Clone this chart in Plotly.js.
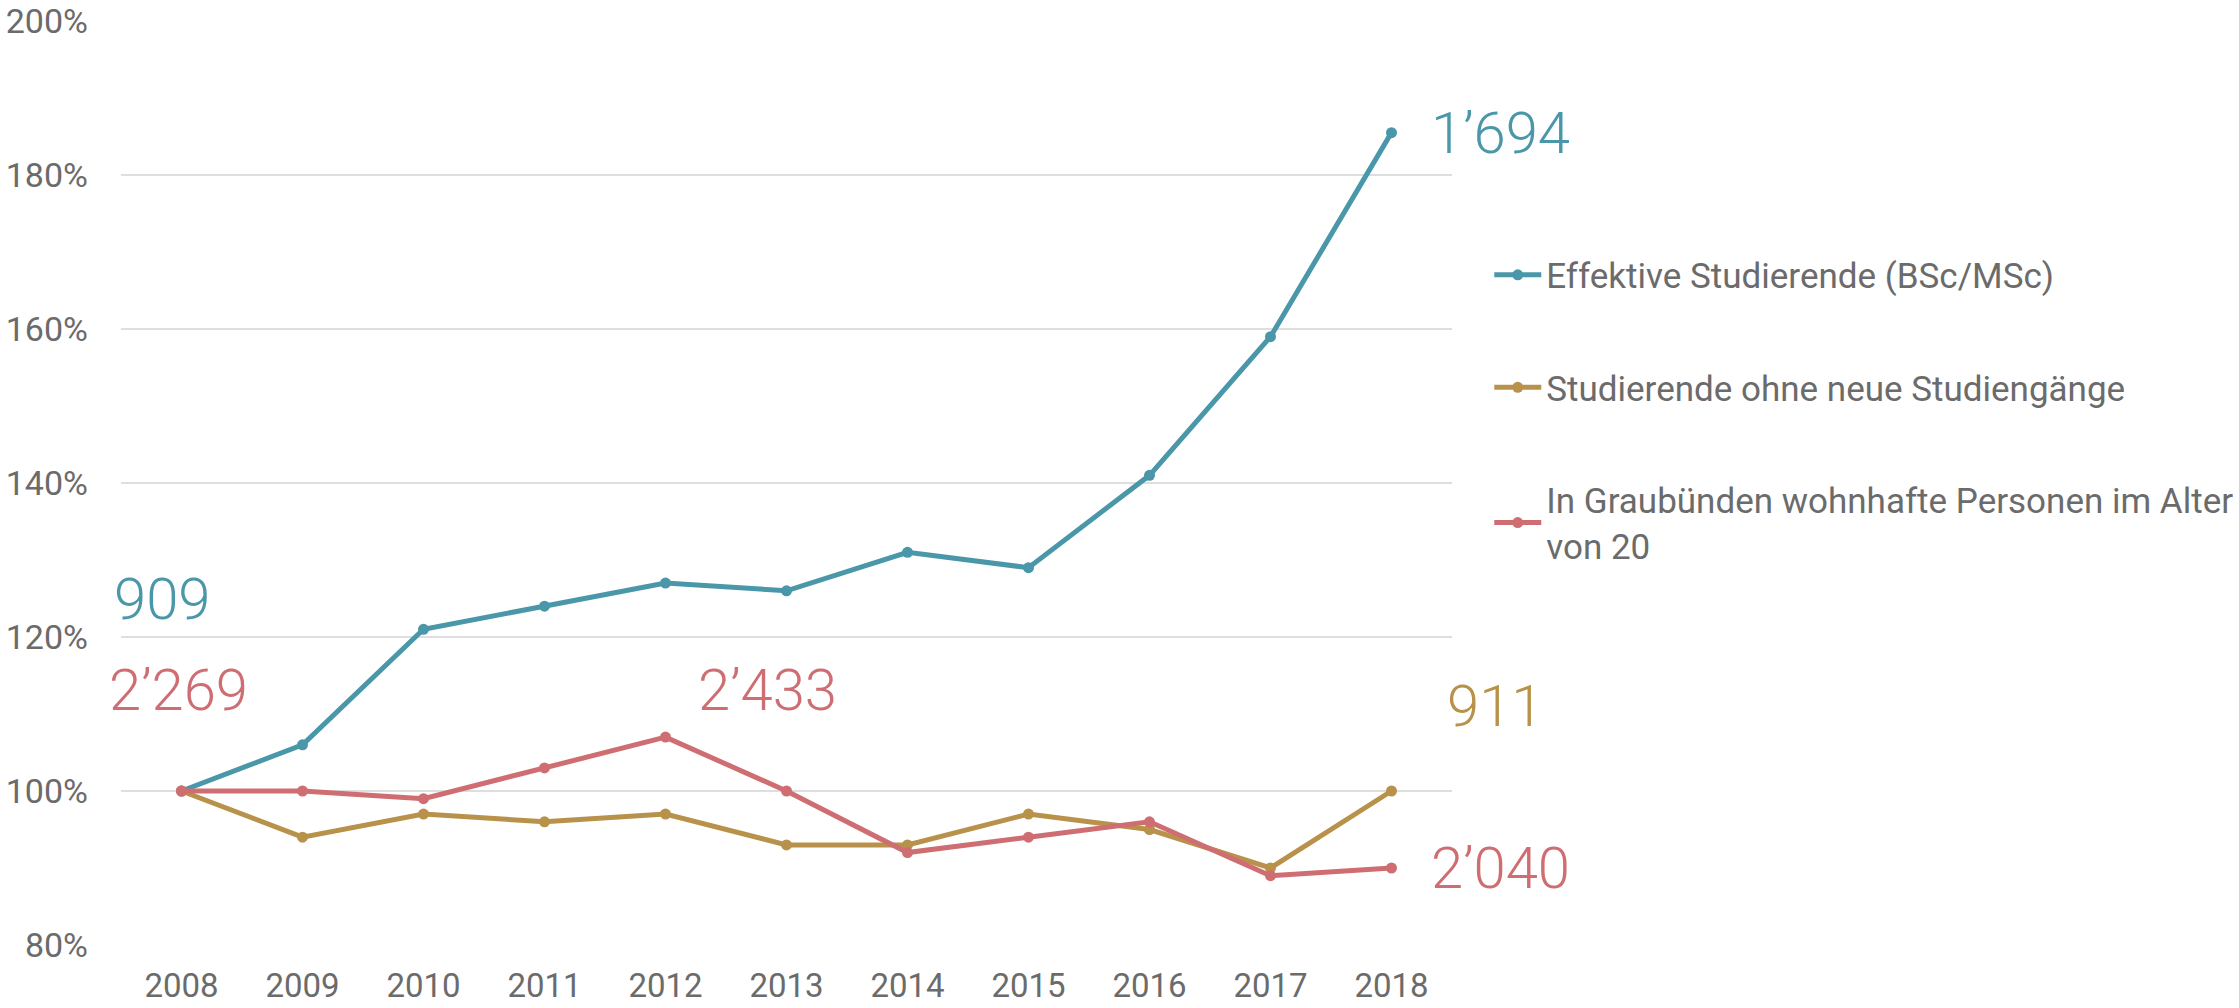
<!DOCTYPE html>
<html>
<head>
<meta charset="utf-8">
<script src="https://cdn.plot.ly/plotly-3.0.1.min.js"></script>
<style>html,body{margin:0;padding:0;background:#fff;}#chart{width:2239px;height:1008px;}</style>
</head>
<body>
<div id="chart"></div>
<script>
const years = ["2008","2009","2010","2011","2012","2013","2014","2015","2016","2017","2018"];
const effektive = [100, 106, 121, 124, 127, 126, 131, 129, 141, 159, 185.5];
const ohneNeue = [100, 94, 97, 96, 97, 93, 93, 97, 95, 90, 100];
const wohnhafte = [100, 100, 99, 103, 107, 100, 92, 94, 96, 89, 90];
const seriesNames = [
  "Effektive Studierende (BSc/MSc)",
  "Studierende ohne neue Studiengänge",
  "In Graubünden wohnhafte Personen im Alter<br>von 20"
];
const labelTexts = ["909", "2’269", "2’433", "1’694", "911", "2’040"];

const colTeal = "#4a97a9", colGold = "#b8924a", colRed = "#cf6e72";
const fontFam = "Roboto, 'Open Sans', sans-serif";

function tr(y, name, color, g) {
  return {x: years, y: y, name: name, type: "scatter", mode: "lines+markers",
    line: {color: color, width: 5}, marker: {color: color, size: 11},
    legendgroup: g};
}
const data = [
  tr(effektive, seriesNames[0], colTeal, "a"),
  tr(ohneNeue, seriesNames[1], colGold, "b"),
  tr(wohnhafte, seriesNames[2], colRed, "c")
];

const annFont = (c) => ({family: fontFam, size: 58, color: c, weight: 300});
function ann(xi, y, text, shift, color) {
  return {xref: "x", yref: "y", x: xi, y: y, text: text, xanchor: "left", yanchor: "middle",
    xshift: shift, showarrow: false, font: annFont(color)};
}
const annotations = [
  ann(0, 125, labelTexts[0], -70, colTeal),
  ann(0, 113.1, labelTexts[1], -75, colRed),
  ann(4, 113.1, labelTexts[2], 30, colRed),
  ann(10, effektive[10], labelTexts[3], 37, colTeal),
  ann(10, 111, labelTexts[4], 53, colGold),
  ann(10, wohnhafte[10], labelTexts[5], 37, colRed)
];

const layout = {
  width: 2239, height: 1008,
  margin: {l: 121, r: 787, t: 21, b: 63, autoexpand: false},
  paper_bgcolor: "#fff", plot_bgcolor: "#fff",
  font: {family: fontFam, color: "#6b6b6b", size: 33},
  xaxis: {type: "category", range: [-0.5, 10.5], showgrid: false, zeroline: false, showline: false,
    ticks: "", tickfont: {size: 33, color: "#6b6b6b"}, ticklabelstandoff: 18, automargin: false},
  yaxis: {range: [80, 200], dtick: 20, ticksuffix: "%", showgrid: true, gridcolor: "#dedede", gridwidth: 2,
    zeroline: false, showline: false, ticks: "", tickfont: {size: 34, color: "#6b6b6b"}, ticklabelstandoff: 32, automargin: false},
  showlegend: true,
  legend: {x: 1.028, xanchor: "left", y: 0.757, yanchor: "top", traceorder: "grouped", tracegroupgap: 64,
    font: {size: 35, color: "#6b6b6b", family: fontFam}, bgcolor: "rgba(0,0,0,0)", itemwidth: 47},
  annotations: annotations
};
Plotly.newPlot("chart", data, layout, {displayModeBar: false});
</script>
</body>
</html>
